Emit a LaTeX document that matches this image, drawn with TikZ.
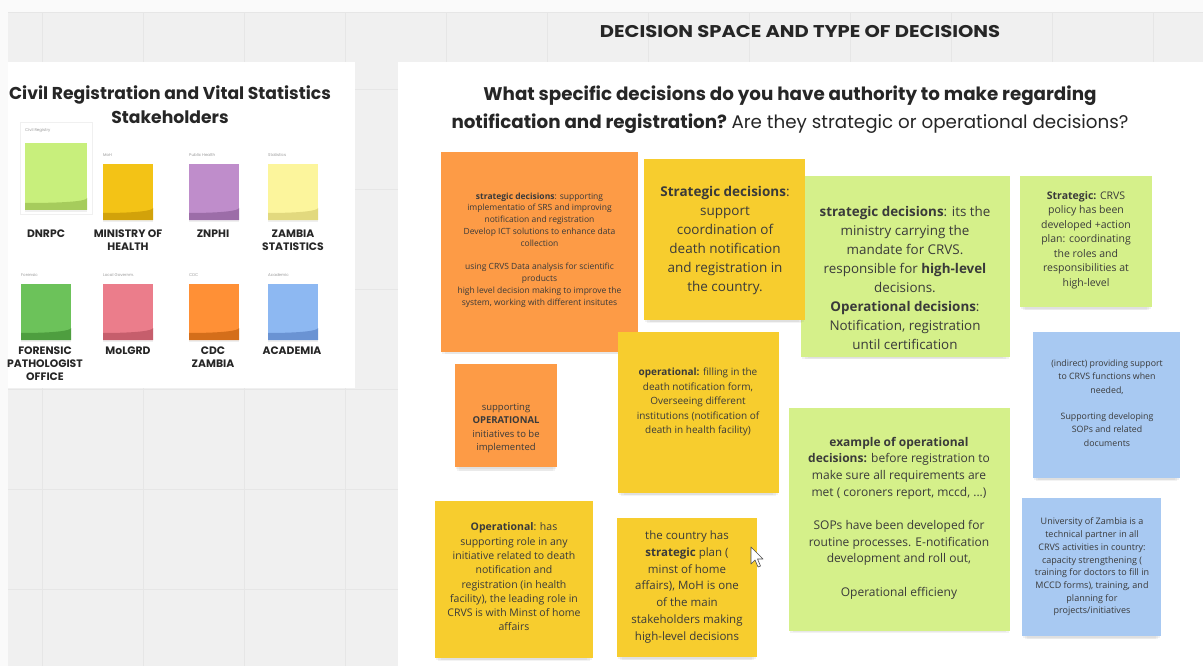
\documentclass[tikz,border=0pt]{standalone}
\usepackage{fontspec}
\setmainfont{Open Sans}
\newfontfamily\pop{Poppins}
\usetikzlibrary{shadows}
\definecolor{bg}{HTML}{F0F0F0}
\definecolor{gridc}{HTML}{E6E6E6}
\definecolor{orng}{HTML}{FD9B46}
\definecolor{yel}{HTML}{F7CD2E}
\definecolor{lgrn}{HTML}{D5F08A}
\definecolor{lblu}{HTML}{A8C9F2}
\definecolor{txtc}{HTML}{3A3A3A}
\definecolor{mLime}{HTML}{C8EF7C}\definecolor{mLimeD}{HTML}{A6CC5C}
\definecolor{mGold}{HTML}{F3C316}\definecolor{mGoldD}{HTML}{D2A20A}
\definecolor{mPurp}{HTML}{BF8DCB}\definecolor{mPurpD}{HTML}{9C6DA8}
\definecolor{mLYel}{HTML}{FCF59C}\definecolor{mLYelD}{HTML}{E2D97E}
\definecolor{mGrn}{HTML}{6CC25A}\definecolor{mGrnD}{HTML}{4E9E3F}
\definecolor{mPink}{HTML}{EB7D8B}\definecolor{mPinkD}{HTML}{C65E6C}
\definecolor{mOrng}{HTML}{FF9036}\definecolor{mOrngD}{HTML}{D46E1A}
\definecolor{mBlue}{HTML}{8DB8F2}\definecolor{mBlueD}{HTML}{6A93D3}
\begin{document}
\begin{tikzpicture}[x=1pt,y=-1pt,
  note/.style n args={3}{rectangle, fill=#1, minimum width=#2pt, minimum height=#3pt, inner sep=0pt,
    drop shadow={opacity=0.08, shadow xshift=0pt, shadow yshift=-8pt, shadow scale=0.93},
    drop shadow={opacity=0.09, shadow xshift=0pt, shadow yshift=-6pt, shadow scale=0.96},
    drop shadow={opacity=0.10, shadow xshift=0pt, shadow yshift=-3pt, shadow scale=0.99}},
  ntext/.style 2 args={align=center, inner sep=0pt, text=txtc, font=\fontsize{#1}{#2}\selectfont},
  mini/.style 2 args={rectangle, fill=#1, minimum width=50pt, minimum height=56pt, inner sep=0pt,
    drop shadow={opacity=0.12, shadow xshift=0pt, shadow yshift=-2pt},
    path picture={\fill[#2] ([yshift=7pt]path picture bounding box.south west)
      .. controls ([xshift=-20pt,yshift=7pt]path picture bounding box.south east)
      and ([yshift=9pt]path picture bounding box.south east)
      .. ([yshift=12pt]path picture bounding box.south east)
      |- (path picture bounding box.south west) -- cycle;}},
  tiny/.style={anchor=west, inner sep=0pt, text=gray!80, font=\pop\fontsize{4}{5}\selectfont},
  mlabel/.style={align=center, inner sep=0pt, text=black!85, font=\pop\bfseries\fontsize{10.8}{13}\selectfont},
]
\useasboundingbox (0,0) rectangle (1203,666);
% background and grid
\fill[bg] (0,0) rectangle (1203,666);
\foreach \x in {42,143,...,1203} \draw[gridc, line width=0.8pt] (\x,12) -- (\x,666);
\foreach \y in {89,189,...,666} \draw[gridc, line width=0.8pt] (0,\y) -- (1203,\y);
\fill[white!70!bg] (0,0) rectangle (1203,12);
\fill[white!70!bg] (0,0) rectangle (8,666);
\draw[gridc, line width=0.8pt] (8,12) -- (1203,12);
% panels
\fill[white] (8,62) rectangle (355,388);
\fill[white] (398,62) rectangle (1203,666);
% top title
\node[font=\pop\bfseries\fontsize{17}{20}\selectfont, text=black!85, xscale=1.15] (title) at (800,32) {DECISION SPACE AND TYPE OF DECISIONS};
% left panel
\node[font=\pop\bfseries\fontsize{17.2}{24}\selectfont, align=center, text=black!85] (ltitle) at (170,105) {Civil Registration and Vital Statistics\\Stakeholders};
\draw[gray!12, line width=0.6pt] (20,122) rectangle (92,214);
\node[mini={mLime}{mLimeD}, minimum width=62pt, minimum height=67pt] (s1) at (56,176.5) {};
\node[mini={mGold}{mGoldD}] (s2) at (128,192) {};
\node[mini={mPurp}{mPurpD}] (s3) at (214,192) {};
\node[mini={mLYel}{mLYelD}] (s4) at (293,192) {};
\node[mini={mGrn}{mGrnD}] (s5) at (46,312) {};
\node[mini={mPink}{mPinkD}] (s6) at (128,312) {};
\node[mini={mOrng}{mOrngD}] (s7) at (214,312) {};
\node[mini={mBlue}{mBlueD}] (s8) at (293,312) {};
\node[tiny] (c1) at (25,131) {Civil Registry};
\node[tiny] (c2) at (103,155) {MoH};
\node[tiny] (c3) at (189,155) {Public Health};
\node[tiny] (c4) at (268,155) {Statistics};
\node[tiny] (c5) at (21,275) {Forensic};
\node[tiny] (c6) at (103,275) {Local Governm.};
\node[tiny] (c7) at (189,275) {CDC};
\node[tiny] (c8) at (268,275) {Academic};
\node[mlabel, anchor=north] (l1) at (46,230) {DNRPC};
\node[mlabel, anchor=north] (l2) at (128,230) {MINISTRY OF\\HEALTH};
\node[mlabel, anchor=north] (l3) at (213,230) {ZNPHI};
\node[mlabel, anchor=north] (l4) at (293,230) {ZAMBIA\\STATISTICS};
\node[mlabel, anchor=north] (l5) at (45,347) {FORENSIC\\PATHOLOGIST\\OFFICE};
\node[mlabel, anchor=north] (l6) at (128,347) {MoLGRD};
\node[mlabel, anchor=north] (l7) at (213,347) {CDC\\ZAMBIA};
\node[mlabel, anchor=north] (l8) at (292,347) {ACADEMIA};
% question
\node[font=\pop\fontsize{18.3}{28}\selectfont, align=center, text=black!85] (q) at (790,110)
  {\textbf{What specific decisions do you have authority to make regarding}\\\textbf{notification and registration?}\hspace{-2pt} Are they strategic or operational decisions?};
% sticky notes
\node[note={orng}{197}{200}] (n1) at (539.5,252) {};
\node[note={lgrn}{209}{181}] (n3) at (905.5,266.5) {};
\node[note={yel}{161}{161}] (n2) at (724.5,239.5) {};
\node[note={lgrn}{132}{131}] (n4) at (1086,241.5) {};
\node[note={orng}{102}{103}] (n5) at (506,415.5) {};
\node[note={yel}{161}{161}] (n6) at (698.5,412.5) {};
\node[note={lgrn}{221}{223}] (n7) at (899.5,519.5) {};
\node[note={lblu}{147}{146}] (n8) at (1106.5,405) {};
\node[note={lblu}{139}{138}] (n9) at (1091.5,567) {};
\node[note={yel}{158}{157}] (n10) at (514,579.5) {};
\node[note={yel}{140}{139}] (n11) at (687,587.5) {};
% note texts
\node[ntext={8.5}{11.8}] (t1) at (539.5,250) {\textbf{strategic decisions}: supporting\\
implementatio of SRS and improving\\ notification and registration\\
Develop ICT solutions to enhance data\\ collection\\[11.8pt]
using CRVS Data analysis for scientific\\ products\\
high level decision making to improve the\\ system, working with different insitutes};
\node[ntext={13.5}{19}] (t2) at (725,240) {\textbf{Strategic decisions}:\\ support\\ coordination of\\ death notification\\ and registration in\\ the country.};
\node[ntext={13.4}{19}] (t3) at (905,278) {\textbf{strategic decisions}: its the\\ ministry carrying the\\ mandate for CRVS.\\ responsible for \textbf{high-level}\\ decisions.\\ \textbf{Operational decisions}:\\ Notification, registration\\ until certification};
\node[ntext={10.5}{14.5}] (t4) at (1086,240) {\textbf{Strategic:} CRVS\\ policy has been\\ developed +action\\ plan: coordinating\\ the roles and\\ responsibilities at\\ high-level};
\node[ntext={9.5}{13.5}] (t5) at (506,428) {supporting\\ \textbf{OPERATIONAL}\\ initiatives to be\\ implemented};
\node[ntext={10}{14.5}] (t6) at (698,402) {\textbf{operational:} filling in the\\ death notification form,\\ Overseeing different\\ institutions (notification of\\ death in health facility)};
\node[ntext={12}{16.7}] (t7) at (899,518) {\textbf{example of operational}\\ \textbf{decisions:} before registration to\\ make sure all requirements are\\ met ( coroners report, mccd, ...)\\[16.7pt] SOPs have been developed for\\ routine processes. E-notification\\ development and roll out,\\[16.7pt] Operational efficieny};
\node[ntext={8.8}{13.3}] (t8) at (1107,403) {(indirect) providing support\\ to CRVS functions when\\ needed,\\[13.3pt] Supporting developing\\ SOPs and related\\ documents};
\node[ntext={9}{12.7}] (t9) at (1092,567) {University of Zambia is a\\ technical partner in all\\ CRVS activities in country:\\ capacity strengthening (\\ training for doctors to fill in\\ MCCD forms), training, and\\ planning for\\ projects/initiatives};
\node[ntext={10.5}{14.3}] (t10) at (514,577) {\textbf{Operational}: has\\ supporting role in any\\ initiative related to death\\ notification and\\ registration (in health\\ facility), the leading role in\\ CRVS is with Minst of home\\ affairs};
\node[ntext={11.5}{16.7}] (t11) at (687,587) {the country has\\ \textbf{strategic} plan (\\ minst of home\\ affairs), MoH is one\\ of the main\\ stakeholders making\\ high-level decisions};
% mouse cursor
\filldraw[fill=white, draw=black!70, line width=0.6pt, line join=round]
  (751,547) -- (751,564) -- (755,560) -- (758,567) -- (760.5,566) -- (757.5,559) -- (763,559) -- cycle;
\end{tikzpicture}
\end{document}
